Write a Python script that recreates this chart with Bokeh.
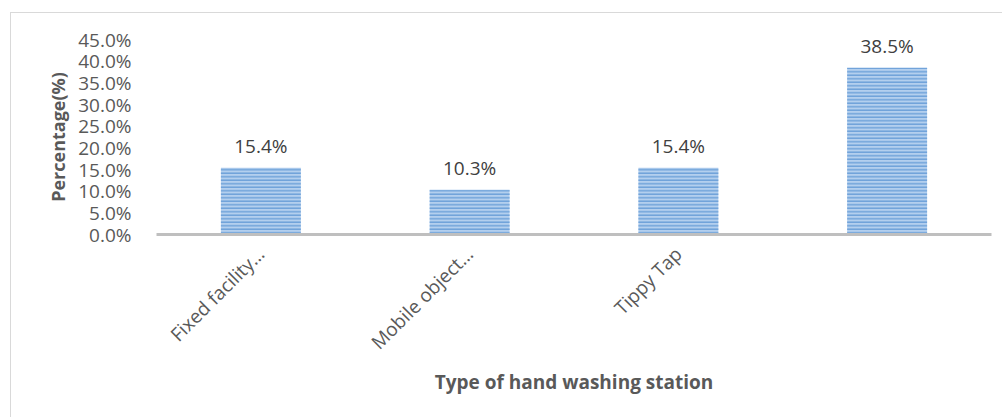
import math
from bokeh.plotting import figure
from bokeh.models import FactorRange, Range1d, FixedTicker, PrintfTickFormatter, ColumnDataSource
from bokeh.core.properties import value
from bokeh.embed import file_html
from bokeh.resources import INLINE

categories = ["Fixed facility\u2026", "Mobile object\u2026", "Tippy Tap", " "]
percentages = [15.4, 10.3, 15.4, 38.5]
y_ticks = [0, 5, 10, 15, 20, 25, 30, 35, 40, 45]

labels = ["%.1f%%" % v for v in percentages]
src = ColumnDataSource(dict(cat=categories, pct=percentages, lab=labels))

FONT = "Open Sans"
GREY = "#595959"
FS = "19px"

p = figure(
    width=992, height=405,
    x_range=FactorRange(factors=categories, range_padding=0),
    y_range=Range1d(0, 45),
    output_backend="svg", toolbar_location=None,
    min_border_left=145, min_border_right=12, min_border_top=26, min_border_bottom=184,
    margin=(12, 0, 0, 10),
    styles={"border-top": "1px solid #d9d9d9", "border-left": "1px solid #d9d9d9"},
)
p.outline_line_color = None
p.grid.visible = False

p.vbar(x="cat", top="pct", width=0.383, source=src,
       fill_color="#b3cfee", line_color=None,
       hatch_pattern="horizontal_line", hatch_color="#70a2da",
       hatch_scale=3.5, hatch_weight=1.5)

p.text(x="cat", y="pct", text="lab", source=src,
       text_font=value(FONT), text_font_size=FS, text_color="#404040",
       text_align="center", text_baseline="bottom", y_offset=-9)

ya = p.yaxis[0]
ya.ticker = FixedTicker(ticks=y_ticks)
ya.formatter = PrintfTickFormatter(format="%.1f%%")
ya.axis_line_color = None
ya.major_tick_line_color = None
ya.minor_tick_line_color = None
ya.major_label_standoff = 19
ya.major_label_text_font = FONT
ya.major_label_text_font_size = FS
ya.major_label_text_color = GREY
ya.axis_label = "Percentage(%)"
ya.axis_label_text_font = FONT
ya.axis_label_text_font_size = "18px"
ya.axis_label_text_font_style = "bold"
ya.axis_label_text_color = GREY
ya.axis_label_standoff = 5

xa = p.xaxis[0]
xa.axis_line_color = "#bfbfbf"
xa.axis_line_width = 3
xa.major_tick_line_color = None
xa.minor_tick_line_color = None
xa.major_label_orientation = math.pi / 4
xa.major_label_standoff = 10
xa.major_label_text_font = FONT
xa.major_label_text_font_size = FS
xa.major_label_text_color = GREY
xa.axis_label = "Type of hand washing station"
xa.axis_label_text_font = FONT
xa.axis_label_text_font_size = FS
xa.axis_label_text_font_style = "bold"
xa.axis_label_text_color = GREY
xa.axis_label_standoff = 2

open("out.html", "w").write(file_html(p, INLINE))
